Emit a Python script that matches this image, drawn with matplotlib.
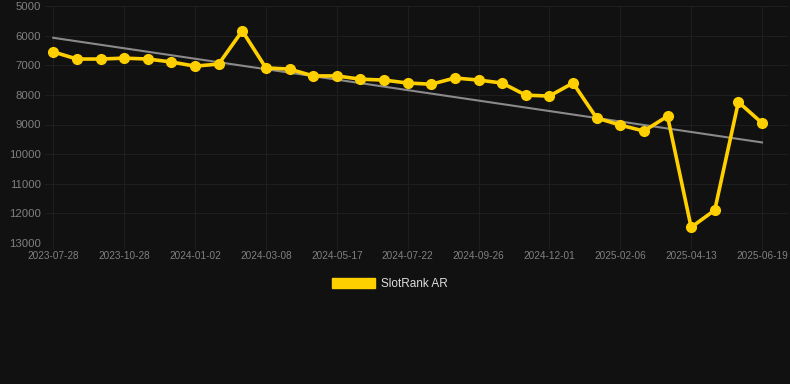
import numpy as np
import matplotlib.pyplot as plt
from matplotlib.patches import Patch

# dates of the points (every 3rd one is labelled on the axis)
dates = ["2023-07-28", "2023-08-28", "2023-09-28", "2023-10-28", "2023-11-20",
         "2023-12-11", "2024-01-02", "2024-01-24", "2024-02-15", "2024-03-08",
         "2024-04-01", "2024-04-24", "2024-05-17", "2024-06-07", "2024-06-29",
         "2024-07-22", "2024-08-12", "2024-09-04", "2024-09-26", "2024-10-18",
         "2024-11-09", "2024-12-01", "2024-12-23", "2025-01-15", "2025-02-06",
         "2025-02-27", "2025-03-22", "2025-04-13", "2025-05-05", "2025-05-28",
         "2025-06-19"]
rank = [6550, 6790, 6790, 6760, 6790, 6890, 7030, 6960, 5840, 7090,
        7130, 7360, 7360, 7470, 7500, 7600, 7640, 7430, 7500, 7600,
        8010, 8040, 7600, 8780, 9020, 9220, 8720, 12470, 11890, 8240,
        8950]
y_ticks = [5000, 6000, 7000, 8000, 9000, 10000, 11000, 12000, 13000]

bg = "#111111"
gold = "#ffd000"

fig = plt.figure(figsize=(7.9, 3.84), dpi=100, facecolor=bg)
ax = fig.add_axes([45 / 790, 1 - 243 / 384, 743 / 790, 237 / 384], facecolor=bg)

x = np.arange(len(rank))
ax.plot(x, rank, color=gold, lw=2.6, marker="o", ms=7, zorder=3)

# trend line (least squares)
k, b = np.polyfit(x, rank, 1)
ax.plot([x[0], x[-1]], [k * x[0] + b, k * x[-1] + b], color="#8a8a8a", lw=1.5, zorder=2)

ax.set_ylim(13000, 5000)
ax.set_xlim(-0.35, 30.15 + 0.95)
ax.set_yticks(y_ticks)
ax.set_yticklabels([str(v) for v in y_ticks])
ax.set_xticks(x[::3])
ax.set_xticklabels(dates[::3])

ax.grid(True, color="#1e1e1e", lw=0.8)
ax.set_axisbelow(True)
for s in ax.spines.values():
    s.set_visible(False)
ax.tick_params(axis="y", length=0, pad=3, labelsize=8.2, labelcolor="#808080")
ax.tick_params(axis="x", length=4, color="#1e1e1e", pad=2, labelsize=7.2, labelcolor="#808080")
for t in ax.get_xticklabels() + ax.get_yticklabels():
    t.set_fontfamily("Liberation Sans")

leg = fig.legend(handles=[Patch(color=gold, label="SlotRank AR")], loc="center",
                 bbox_to_anchor=(390 / 790, 1 - 284 / 384), frameon=False,
                 handlelength=3.6, handleheight=1.0, handletextpad=0.5,
                 prop={"family": "Liberation Sans", "size": 8.5})
for t in leg.get_texts():
    t.set_color("#dddddd")

fig.savefig("out.png", dpi=100, facecolor=bg)
